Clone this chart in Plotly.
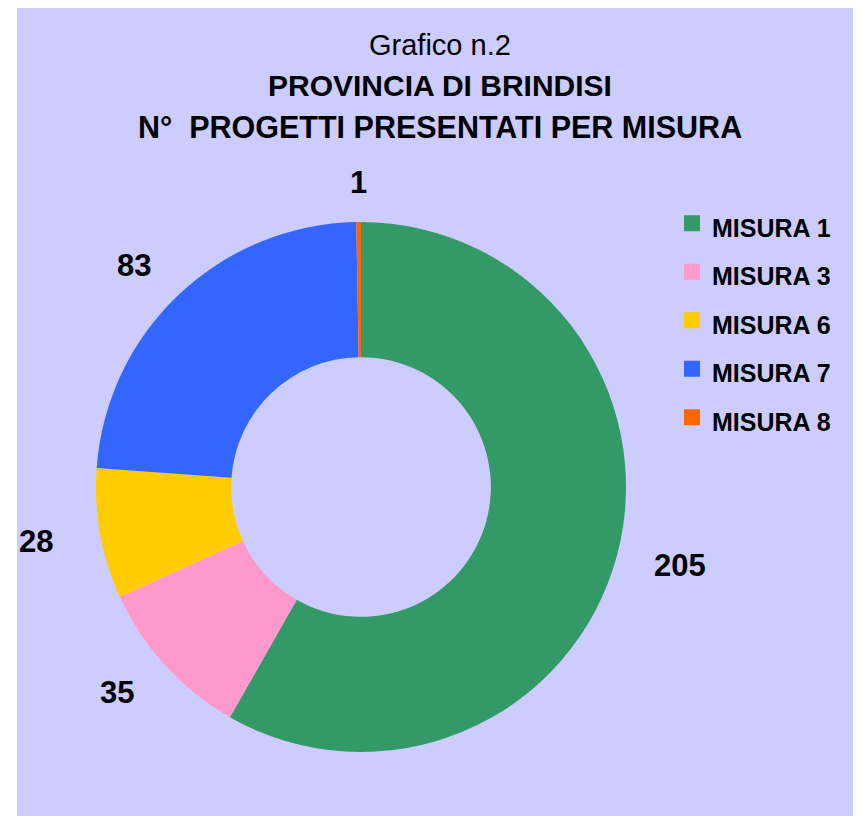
import math
import plotly.graph_objects as go

# ---- data ----
categories = ["MISURA 1", "MISURA 3", "MISURA 6", "MISURA 7", "MISURA 8"]
values = [205, 35, 28, 83, 1]
colors = ["#339966", "#FF99CC", "#FFCC00", "#3366FF", "#FF6600"]

title_line1 = "Grafico n.2"
title_line2 = "PROVINCIA DI BRINDISI"
title_line3 = "N°\u00a0 PROGETTI PRESENTATI PER MISURA"

# ---- layout constants (window pixels; page body has an 8px margin) ----
OFF = 8
FW, FH = 861 - OFF, 816 - OFF
BG = "#CCCCFF"
FONT = "Arial, Liberation Sans, sans-serif"
cx, cy, R = 361, 487, 265  # donut centre and radius in window pixels
label_rx, label_ry = 330, 305


def fx(px):
    return (px - OFF) / FW


def fy(py):
    return 1 - (py - OFF) / FH


fig = go.Figure()
fig.add_trace(go.Pie(
    labels=categories,
    values=values,
    marker=dict(colors=colors, line=dict(width=0)),
    hole=0.49,
    sort=False,
    direction="clockwise",
    rotation=0,
    textinfo="none",
    hoverinfo="label+value",
    showlegend=False,
    domain=dict(x=[fx(cx - R), fx(cx + R)], y=[fy(cy + R), fy(cy - R)]),
))

# legend entries (square swatches) built from the same categories/colours
for c, col in zip(categories, colors):
    fig.add_trace(go.Scatter(
        x=[None], y=[None], mode="markers",
        name=f"<span style='font-size:25px'>{c}</span>",
        marker=dict(symbol="square", size=16, color=col, line=dict(width=0)),
        showlegend=True, hoverinfo="skip",
    ))

# value labels placed around the ring from the data
annotations = []
total = sum(values)
cum = 0
for v in values:
    mid = (cum + v / 2) / total * 2 * math.pi
    cum += v
    px = cx + label_rx * math.sin(mid)
    py = cy - label_ry * math.cos(mid)
    annotations.append(dict(
        x=fx(px), y=fy(py), xref="paper", yref="paper",
        text=f"<b>{v}</b>", showarrow=False,
        font=dict(family=FONT, size=31, color="#000000"),
        xanchor="center", yanchor="middle",
    ))

for txt, ypx, bold, size in [(title_line1, 45, False, 29),
                             (title_line2, 86, True, 30),
                             (title_line3, 127, True, 30.5)]:
    annotations.append(dict(
        x=fx(440), y=fy(ypx), xref="paper", yref="paper",
        text=f"<b>{txt}</b>" if bold else txt, showarrow=False,
        font=dict(family=FONT, size=size, color="#000000"),
        xanchor="center", yanchor="middle",
    ))

fig.update_layout(
    width=FW, height=FH,
    margin=dict(l=0, r=0, t=0, b=0),
    paper_bgcolor="#FFFFFF",
    plot_bgcolor="rgba(0,0,0,0)",
    xaxis=dict(visible=False),
    yaxis=dict(visible=False),
    showlegend=True,
    legend=dict(
        x=fx(672), y=fy(194), xanchor="left", yanchor="top",
        font=dict(family=FONT, size=35, color="#000000", weight="bold"),
        bgcolor="rgba(0,0,0,0)",
        traceorder="normal",
        itemsizing="trace",
    ),
    annotations=annotations,
    shapes=[dict(type="rect", xref="paper", yref="paper",
                 x0=fx(17), x1=1, y0=0, y1=1,
                 fillcolor=BG, line=dict(width=0), layer="below")],
)

fig.write_html("out.html")
